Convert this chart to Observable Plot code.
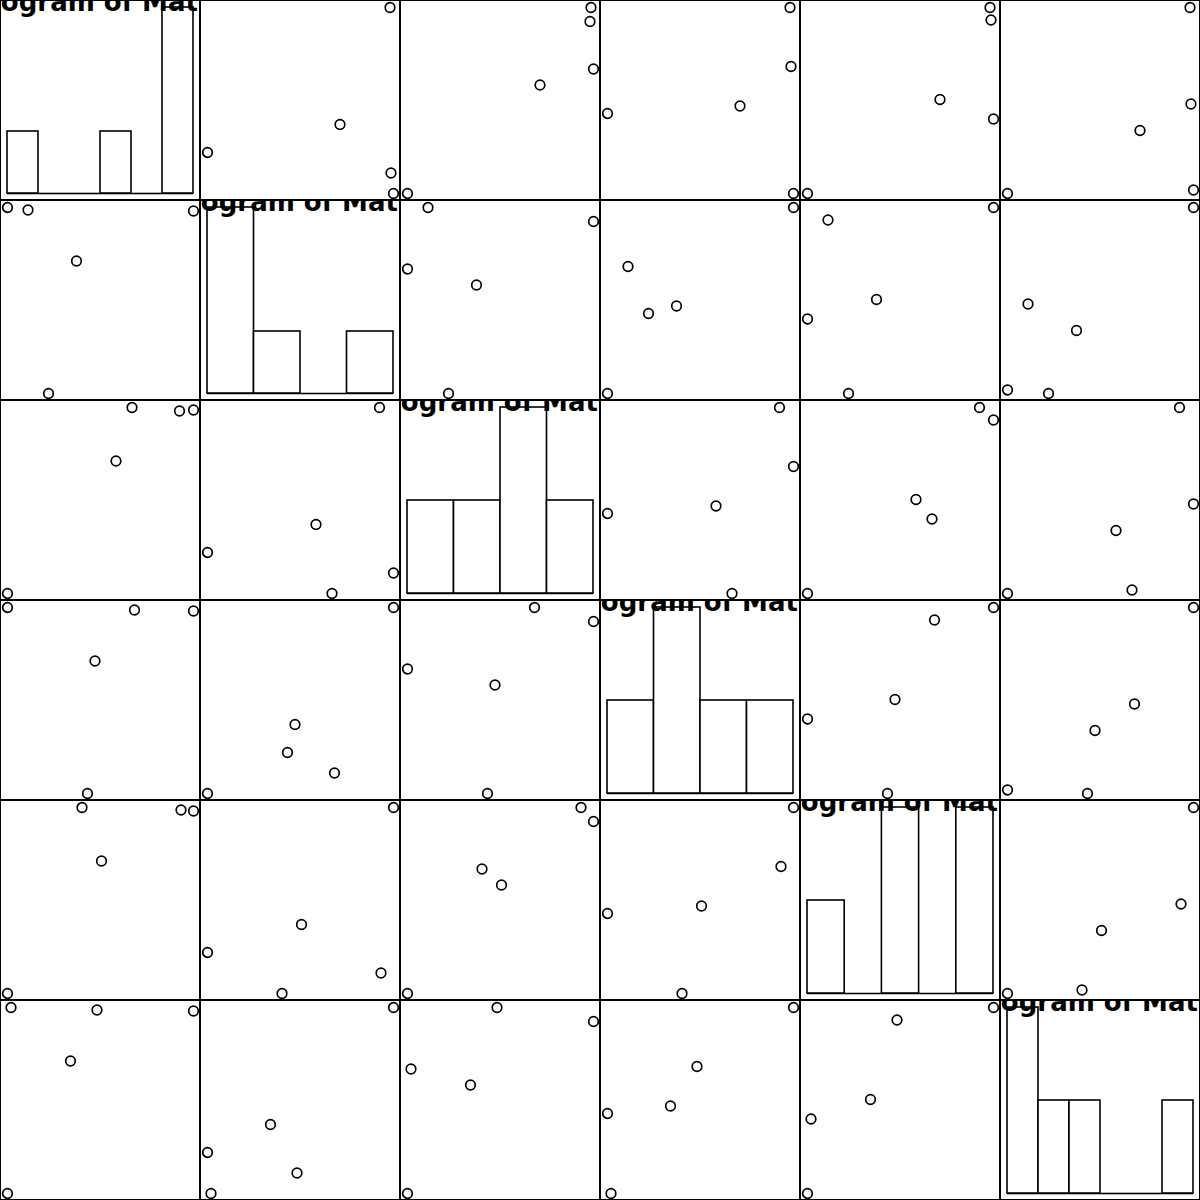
<!DOCTYPE html>
<html>
<head>
<meta charset="utf-8">
<script src="https://cdn.jsdelivr.net/npm/d3@7"></script>
<script src="https://cdn.jsdelivr.net/npm/@observablehq/plot@0.6"></script>
<style>
  html, body { margin: 0; padding: 0; background: white; }
  #grid { display: grid; grid-template-columns: repeat(6, 200px); grid-template-rows: repeat(6, 200px); width: 1200px; height: 1200px; }
  #grid svg { display: block; overflow: hidden; }
</style>
</head>
<body>
<div id="grid"></div>
<script>
const observations = ["A", "B", "C", "D", "E"];
const mat1 = [7, 139.5, 189.5, 190.5, 193];
const mat2 = [48, 76, 193, 27.5, 7];
const mat3 = [7, 115.5, 179, 193, 131.5];
const mat4 = [87, 94.5, 193, 134, 7];
const mat5 = [7, 101, 193, 180.5, 81.5];
const mat6 = [7, 70, 193, 96.5, 10.5];

// Histogram bin counts for each column
const hist1 = [1, 0, 0, 1, 0, 3];
const hist2 = [3, 1, 0, 1];
const hist3 = [1, 1, 2, 1];
const hist4 = [1, 2, 1, 1];
const hist5 = [1, 0, 2, 0, 2];
const hist6 = [2, 1, 1, 0, 0, 1];

const histTitles = [
  "Histogram of Mat[, 1]", "Histogram of Mat[, 2]", "Histogram of Mat[, 3]",
  "Histogram of Mat[, 4]", "Histogram of Mat[, 5]", "Histogram of Mat[, 6]"
];

const columns = [mat1, mat2, mat3, mat4, mat5, mat6];
const hists = [hist1, hist2, hist3, hist4, hist5, hist6];

const grid = document.getElementById("grid");
const frameMark = () => Plot.frame({stroke: "black", strokeWidth: 1, insetTop: 0, insetLeft: 0, insetRight: 1, insetBottom: 1});

for (let i = 0; i < 6; i++) {
  for (let j = 0; j < 6; j++) {
    let chart;
    if (i === j) {
      const bins = hists[i].map((c, k) => ({x1: k, x2: k + 1, count: c}));
      chart = Plot.plot({
        width: 200, height: 200, margin: 0, inset: 7,
        x: {axis: null}, y: {axis: null},
        marks: [
          Plot.ruleY(bins, {x1: "x1", x2: "x2", y: 0, stroke: "black", strokeWidth: 1.6}),
          Plot.rectY(bins.filter(d => d.count > 0), {x1: "x1", x2: "x2", y: "count", fill: "white", stroke: "black", strokeWidth: 1.6}),
          Plot.text([histTitles[i]], {
            text: d => d, frameAnchor: "top", lineAnchor: "bottom", dy: 10,
            fontSize: 26, fontWeight: "bold", fontFamily: "DejaVu Sans", fill: "black", clip: "frame"
          }),
          frameMark()
        ]
      });
    } else {
      const pts = observations.map((o, k) => ({obs: o, x: columns[i][k], y: columns[j][k]}));
      chart = Plot.plot({
        width: 200, height: 200, margin: 0, inset: 7,
        x: {axis: null}, y: {axis: null},
        marks: [
          Plot.dot(pts, {x: "x", y: "y", r: 4.8, stroke: "black", strokeWidth: 1.7, fill: "none"}),
          frameMark()
        ]
      });
    }
    grid.appendChild(chart);
  }
}
</script>
</body>
</html>
